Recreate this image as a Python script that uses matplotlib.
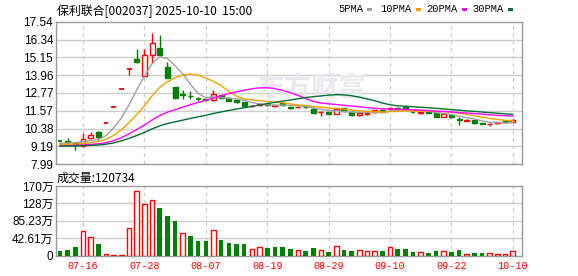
import numpy as np
import pandas as pd
import matplotlib
matplotlib.use("Agg")
import matplotlib.pyplot as plt
from matplotlib.patches import Rectangle

plt.rcParams['font.family'] = ['Noto Sans CJK SC', 'DejaVu Sans']

# 交易日 07-11 ... 10-10
dates = ["07-11", "07-14", "07-15", "07-16", "07-17", "07-18", "07-21", "07-22", "07-23", "07-24",
         "07-25", "07-28", "07-29", "07-30", "07-31", "08-01", "08-04", "08-05", "08-06", "08-07",
         "08-08", "08-11", "08-12", "08-13", "08-14", "08-15", "08-18", "08-19", "08-20", "08-21",
         "08-22", "08-25", "08-26", "08-27", "08-28", "08-29", "09-01", "09-02", "09-03", "09-04",
         "09-05", "09-08", "09-09", "09-10", "09-11", "09-12", "09-15", "09-16", "09-17", "09-18",
         "09-19", "09-22", "09-23", "09-24", "09-25", "09-26", "09-29", "09-30", "10-09", "10-10"]
tick_dates = ["07-16", "07-28", "08-07", "08-19", "08-29", "09-10", "09-22", "10-10"]

opens = [9.54, 9.52, 9.40, 9.24, 9.74, 10.12, 10.78, 11.86, 13.05, 14.35,
         15.02, 13.88, 15.30, 15.78, 14.49, 13.14, 12.70, 12.58, 12.37, 12.36,
         12.31, 12.62, 12.44, 12.29, 12.13, 11.88, 11.95, 12.04, 11.90, 12.08,
         11.80, 11.80, 11.85, 11.72, 11.46, 11.48, 11.38, 11.75, 11.52, 11.28,
         11.38, 11.48, 11.64, 11.66, 11.78, 11.85, 11.50, 11.45, 11.50, 11.40,
         11.17, 11.28, 11.05, 10.92, 10.95, 10.73, 10.66, 10.74, 10.88, 10.82]
highs = [9.58, 9.75, 9.50, 10.06, 10.12, 10.20, 10.78, 11.86, 13.05, 14.35,
         15.70, 15.70, 16.80, 16.65, 14.84, 13.14, 12.97, 12.92, 12.48, 12.38,
         12.97, 12.64, 12.50, 12.31, 12.13, 11.98, 12.10, 12.06, 11.98, 12.10,
         11.85, 11.88, 11.88, 11.74, 11.55, 11.50, 11.78, 11.78, 11.55, 11.42,
         11.46, 11.65, 11.66, 11.85, 11.80, 11.88, 11.55, 11.52, 11.52, 11.42,
         11.40, 11.30, 11.19, 11.00, 10.96, 10.76, 10.74, 10.84, 10.90, 11.00]
lows = [9.46, 9.35, 8.92, 9.22, 9.73, 9.62, 10.78, 11.86, 13.05, 14.00,
        14.75, 13.85, 14.75, 15.30, 13.76, 12.40, 12.38, 12.36, 12.25, 12.30,
        12.20, 12.44, 12.20, 12.07, 11.85, 11.82, 11.92, 11.90, 11.85, 11.92,
        11.72, 11.76, 11.77, 11.43, 11.25, 11.35, 11.36, 11.53, 11.22, 11.25,
        11.30, 11.45, 11.47, 11.64, 11.68, 11.64, 11.45, 11.35, 11.43, 11.13,
        11.15, 11.12, 10.62, 10.88, 10.70, 10.68, 10.58, 10.70, 10.80, 10.80]
closes = [9.52, 9.47, 9.30, 9.69, 9.98, 9.80, 10.78, 11.86, 13.05, 14.35,
          14.86, 15.30, 16.09, 15.33, 13.79, 12.44, 12.60, 12.54, 12.35, 12.32,
          12.68, 12.46, 12.22, 12.16, 11.87, 11.92, 12.00, 11.98, 11.96, 11.94,
          11.78, 11.86, 11.80, 11.45, 11.50, 11.38, 11.70, 11.55, 11.32, 11.40,
          11.42, 11.63, 11.50, 11.78, 11.70, 11.67, 11.48, 11.50, 11.45, 11.15,
          11.37, 11.15, 10.93, 10.96, 10.73, 10.70, 10.71, 10.80, 10.82, 10.98]
# 成交量（手）
volumes = [123000, 148000, 222000, 610000, 460000, 296000, 49000, 25000, 25000, 680000,
           1570000, 1260000, 1370000, 1160000, 960000, 840000, 560000, 490000, 350000, 350000,
           630000, 395000, 305000, 280000, 296000, 165000, 214000, 198000, 222000, 222000,
           173000, 140000, 123000, 198000, 140000, 100000, 247000, 148000, 123000, 140000,
           115000, 115000, 123000, 214000, 173000, 173000, 100000, 90000, 74000, 123000,
           115000, 100000, 148000, 50000, 74000, 74000, 74000, 50000, 50000, 120734]
# 07-11 之前的收盘价（估计，用于均线起点）
earlier_closes = [9.20, 9.22, 9.18, 9.15, 9.17, 9.16, 9.14, 9.18, 9.20, 9.15,
                  9.05, 9.08, 9.10, 9.12, 9.15, 9.14, 9.12, 9.13, 9.16, 9.18,
                  9.25, 9.28, 9.30, 9.26, 9.24, 9.20, 9.22, 9.35, 9.55]

price_ticks = [7.99, 9.19, 10.38, 11.57, 12.77, 13.96, 15.15, 16.34, 17.54]
vol_ticks = [0, 426125, 852250, 1278375, 1704500]
vol_labels = ["0", "42.61万", "85.23万", "128万", "170万"]

ma_names = ["5PMA", "10PMA", "20PMA", "30PMA"]
ma_windows = [5, 10, 20, 30]
ma_colors = ["#a0a0a0", "#f0a000", "#ff00ff", "#006f30"]

RED = "#ff0000"
GREEN = "#008000"
GRID = "#cccccc"
FRAME = "#999999"

n = len(closes)
x = np.arange(n)
all_close = pd.Series(earlier_closes + closes)
prev_close = [earlier_closes[-1]] + closes[:-1]

fig = plt.figure(figsize=(5.78, 2.76), dpi=100)
ax = fig.add_axes([56 / 578, 1 - 164.3 / 276, 466 / 578, 142.6 / 276])
axv = fig.add_axes([56 / 578, 1 - 255.7 / 276, 466 / 578, 69.7 / 276])

tick_idx = [dates.index(d) for d in tick_dates]

for a in (ax, axv):
    a.set_xlim(-0.52, n + 0.2)
    for s in a.spines.values():
        s.set_color(FRAME)
        s.set_linewidth(1.0)
    for t in tick_idx:
        a.axvline(t, color=GRID, lw=0.9, ls=(0, (3, 3)), zorder=0)
    a.tick_params(length=0, labelsize=8.5, pad=2)

# 主图
ax.set_ylim(price_ticks[0], price_ticks[-1])
ax.set_yticks(price_ticks)
ax.set_yticklabels(["%.2f" % v for v in price_ticks], family="Liberation Sans", fontsize=8.5)
for v in price_ticks[1:-1]:
    ax.axhline(v, color=GRID, lw=1, zorder=0)
ax.set_xticks([])

ax.text(0.549, 0.53, "东方财富", transform=ax.transAxes, ha="center", va="center",
        fontsize=19.5, color="#e8e8ee", fontweight="bold", zorder=0)

bw = 0.64
for i in x:
    o, h, l, c = opens[i], highs[i], lows[i], closes[i]
    up = c > o or (c == o and c >= prev_close[i])
    col = RED if up else GREEN
    ax.vlines(i, l, h, color=col, lw=1, zorder=3)
    if abs(c - o) < 0.02:
        ax.hlines(c, i - bw / 2, i + bw / 2, color=col, lw=1.3, zorder=4)
    else:
        ax.add_patch(Rectangle((i - bw / 2, min(o, c)), bw, abs(c - o),
                               facecolor="white" if up else GREEN, edgecolor=col,
                               lw=1, zorder=4))

for name, w, col in zip(ma_names, ma_windows, ma_colors):
    ma = all_close.rolling(w).mean().to_numpy()[-n:]
    ax.plot(x, ma, color=col, lw=1, zorder=5)

# 成交量
axv.set_ylim(vol_ticks[0], vol_ticks[-1])
axv.set_yticks(vol_ticks)
axv.set_yticklabels(vol_labels, fontsize=8.5, family=["Liberation Sans", "Noto Sans CJK SC"])
for v in vol_ticks[1:-1]:
    axv.axhline(v, color=GRID, lw=1, zorder=0)
for i in x:
    up = closes[i] >= prev_close[i]
    if up:
        axv.bar(i, volumes[i], width=0.6, facecolor="white", edgecolor=RED, lw=1, zorder=3)
    else:
        axv.bar(i, volumes[i], width=0.6, color=GREEN, lw=0, zorder=3)
axv.set_xticks(tick_idx)
axv.set_xticklabels(tick_dates, color=RED, family="Liberation Mono", fontsize=7.3)
axv.tick_params(axis="x", pad=4)

# 标题与图例
fig.text(57 / 578, 1 - 11 / 276, "保利联合[002037] 2025-10-10  15:00", fontsize=8.6,
         ha="left", va="center")
fig.text(57 / 578, 1 - 178 / 276, "成交量:%d" % volumes[-1], fontsize=8.6,
         ha="left", va="center")
leg_x = [338, 380, 426, 472]
leg_m = [367, 416, 462, 508]
for name, col, tx, mx in zip(ma_names, ma_colors, leg_x, leg_m):
    fig.text(tx / 578, 1 - 9.5 / 276, name, fontsize=7.5, family="Liberation Mono",
             ha="left", va="center")
    fig.patches.append(Rectangle((mx / 578, 1 - 11 / 276), 5 / 578, 3 / 276,
                                 transform=fig.transFigure, facecolor=col,
                                 edgecolor="none", figure=fig))

fig.savefig("out.png", dpi=100)
